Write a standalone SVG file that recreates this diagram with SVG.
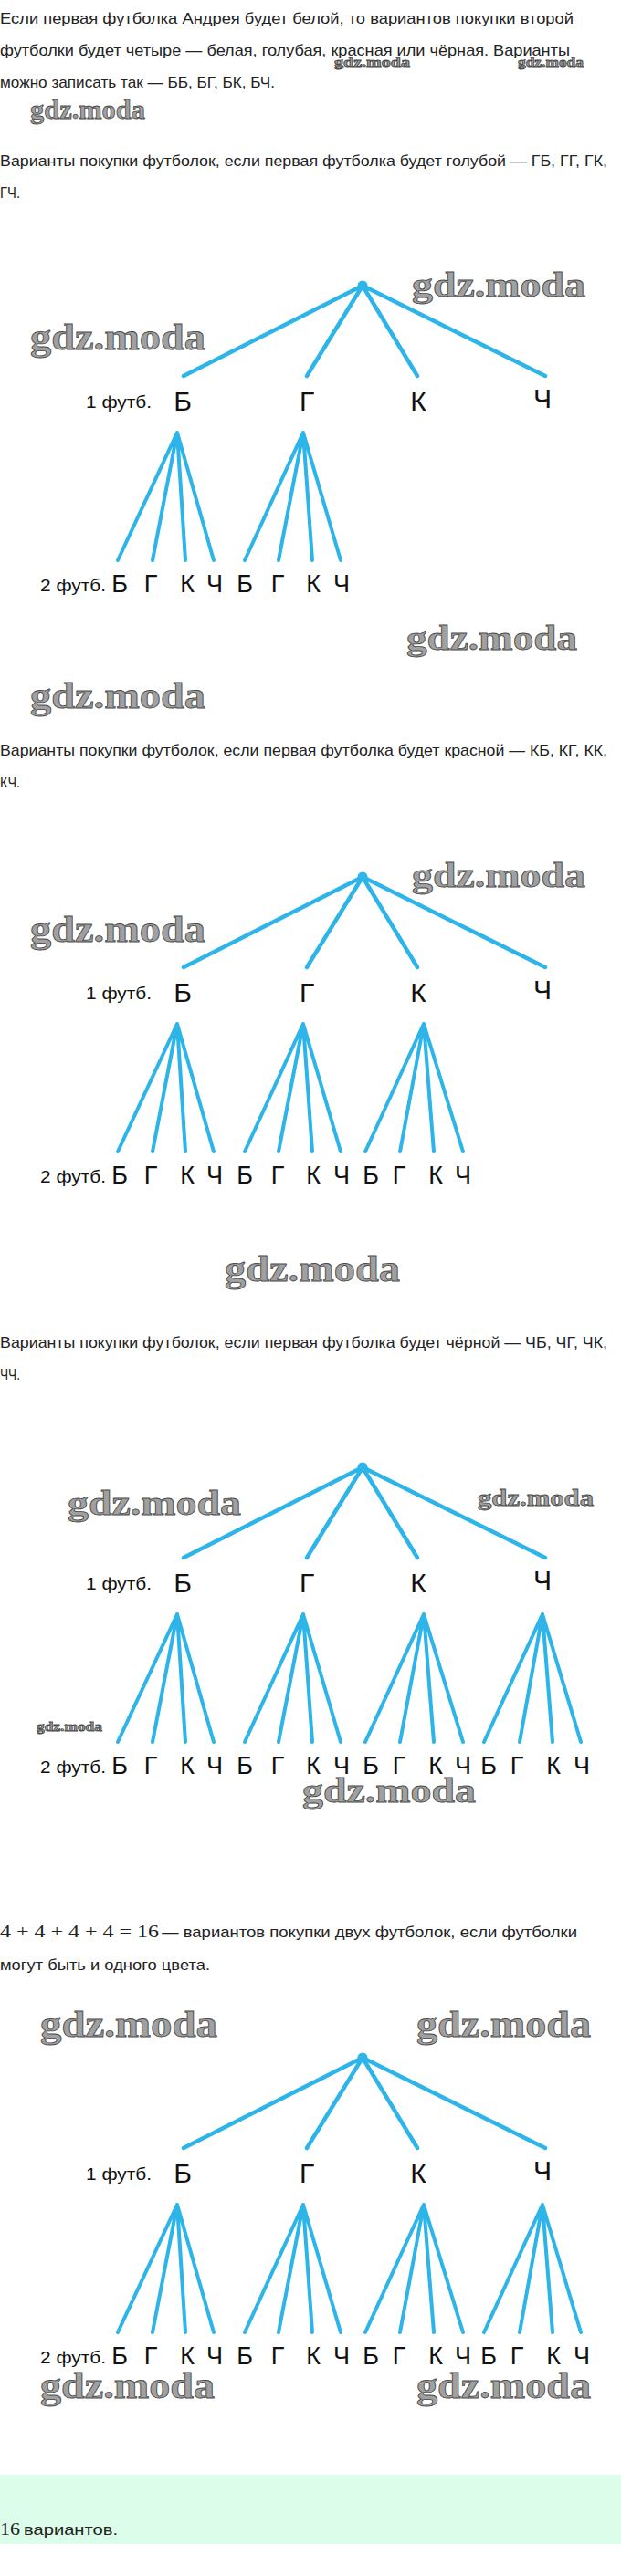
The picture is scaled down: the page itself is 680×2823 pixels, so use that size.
<svg xmlns="http://www.w3.org/2000/svg" width="680" height="2823" viewBox="0 0 680 2823">
<style>
.t{font-family:"Liberation Sans",Arial,sans-serif;font-size:17px;fill:#222}
.m{font-family:"Liberation Serif","Times New Roman",serif;font-size:19px;fill:#222}
.l1{font-family:"Liberation Sans",Arial,sans-serif;font-size:30px;fill:#111;text-anchor:middle}
.l2{font-family:"Liberation Sans",Arial,sans-serif;font-size:27px;fill:#111;text-anchor:middle}
.sm{font-family:"Liberation Sans",Arial,sans-serif;font-size:19px;fill:#111}
.wm{font-family:"Liberation Serif","Times New Roman",serif;font-weight:bold;fill:#a0a0a0;stroke:#4a4a4a;stroke-width:0.8}
.c{fill:none;stroke:#2db4e9;stroke-width:4.5;stroke-linecap:round}
.s{fill:none;stroke:#2db4e9;stroke-width:4;stroke-linecap:round}
.dot{fill:#2db4e9}
</style>
<rect width="680" height="2823" fill="#fff"/>
<rect x="0" y="2712" width="680" height="76" fill="#dbfde9"/>

<g id="texts">
<text class="t" x="0" y="26" textLength="628" lengthAdjust="spacingAndGlyphs">Если первая футболка Андрея будет белой, то вариантов покупки второй</text>
<text class="t" x="0" y="61" textLength="624" lengthAdjust="spacingAndGlyphs">футболки будет четыре — белая, голубая, красная или чёрная. Варианты</text>
<text class="t" x="0" y="96" textLength="301" lengthAdjust="spacingAndGlyphs">можно записать так — ББ, БГ, БК, БЧ.</text>
<text class="t" x="0" y="182" textLength="665" lengthAdjust="spacingAndGlyphs">Варианты покупки футболок, если первая футболка будет голубой — ГБ, ГГ, ГК,</text>
<text class="t" x="0" y="217" textLength="22" lengthAdjust="spacingAndGlyphs">ГЧ.</text>
<text class="t" x="0" y="828" textLength="665" lengthAdjust="spacingAndGlyphs">Варианты покупки футболок, если первая футболка будет красной — КБ, КГ, КК,</text>
<text class="t" x="0" y="863" textLength="22" lengthAdjust="spacingAndGlyphs">КЧ.</text>
<text class="t" x="0" y="1477" textLength="665" lengthAdjust="spacingAndGlyphs">Варианты покупки футболок, если первая футболка будет чёрной — ЧБ, ЧГ, ЧК,</text>
<text class="t" x="0" y="1512" textLength="22" lengthAdjust="spacingAndGlyphs">ЧЧ.</text>
<text class="m" x="0" y="2123" textLength="174" lengthAdjust="spacingAndGlyphs">4 + 4 + 4 + 4 = 16</text>
<text class="t" x="177" y="2123" textLength="455" lengthAdjust="spacingAndGlyphs">— вариантов покупки двух футболок, если футболки</text>
<text class="t" x="0" y="2159" textLength="230" lengthAdjust="spacingAndGlyphs">могут быть и одного цвета.</text>
<text class="m" x="0" y="2778" textLength="22" lengthAdjust="spacingAndGlyphs">16</text>
<text class="t" x="26" y="2778" textLength="103" lengthAdjust="spacingAndGlyphs">вариантов.</text>
</g>

<g id="watermarks">
<text class="wm" x="366" y="73" font-size="15" textLength="83" lengthAdjust="spacingAndGlyphs" stroke-width="0.4">gdz.moda</text>
<text class="wm" x="567" y="73" font-size="15" textLength="72" lengthAdjust="spacingAndGlyphs" stroke-width="0.4">gdz.moda</text>
<text class="wm" x="33" y="130" font-size="30" textLength="126" lengthAdjust="spacingAndGlyphs">gdz.moda</text>
<text class="wm" x="451" y="325" font-size="37" textLength="190" lengthAdjust="spacingAndGlyphs">gdz.moda</text>
<text class="wm" x="33" y="383" font-size="40" textLength="192" lengthAdjust="spacingAndGlyphs">gdz.moda</text>
<text class="wm" x="445" y="712" font-size="38" textLength="187" lengthAdjust="spacingAndGlyphs">gdz.moda</text>
<text class="wm" x="33" y="776" font-size="40" textLength="192" lengthAdjust="spacingAndGlyphs">gdz.moda</text>
<text class="wm" x="451" y="972" font-size="37" textLength="190" lengthAdjust="spacingAndGlyphs">gdz.moda</text>
<text class="wm" x="33" y="1032" font-size="40" textLength="192" lengthAdjust="spacingAndGlyphs">gdz.moda</text>
<text class="wm" x="246" y="1404" font-size="40" textLength="192" lengthAdjust="spacingAndGlyphs">gdz.moda</text>
<text class="wm" x="74" y="1660" font-size="38" textLength="190" lengthAdjust="spacingAndGlyphs">gdz.moda</text>
<text class="wm" x="523" y="1650" font-size="25" textLength="127" lengthAdjust="spacingAndGlyphs" stroke-width="0.6">gdz.moda</text>
<text class="wm" x="40" y="1897" font-size="15" textLength="72" lengthAdjust="spacingAndGlyphs" stroke-width="0.4">gdz.moda</text>
<text class="wm" x="331" y="1975" font-size="38" textLength="190" lengthAdjust="spacingAndGlyphs">gdz.moda</text>
<text class="wm" x="44" y="2232" font-size="40" textLength="194" lengthAdjust="spacingAndGlyphs">gdz.moda</text>
<text class="wm" x="456" y="2232" font-size="40" textLength="191" lengthAdjust="spacingAndGlyphs">gdz.moda</text>
<text class="wm" x="44" y="2628" font-size="40" textLength="191" lengthAdjust="spacingAndGlyphs">gdz.moda</text>
<text class="wm" x="456" y="2628" font-size="40" textLength="191" lengthAdjust="spacingAndGlyphs">gdz.moda</text>
</g>

<g id="connectors">
<path id="t1-root" class="c" d="M397,313L201,412M397,313L336,412M397,313L457,412M397,313L597,412"/>
<path id="t1-B" class="s" d="M194,474L129,614M194,474L167,614M194,474L203,614M194,474L234,614"/>
<path id="t1-G" class="s" d="M332,474L268,614M332,474L305,614M332,474L342,614M332,474L373,614"/>
<path id="t2-root" class="c" d="M397,961L201,1060M397,961L336,1060M397,961L457,1060M397,961L597,1060"/>
<path id="t2-B" class="s" d="M194,1122L129,1262M194,1122L167,1262M194,1122L203,1262M194,1122L234,1262"/>
<path id="t2-G" class="s" d="M332,1122L268,1262M332,1122L305,1262M332,1122L342,1262M332,1122L373,1262"/>
<path id="t2-K" class="s" d="M464,1122L400,1262M464,1122L438,1262M464,1122L475,1262M464,1122L507,1262"/>
<path id="t3-root" class="c" d="M397,1608L201,1707M397,1608L336,1707M397,1608L457,1707M397,1608L597,1707"/>
<path id="t3-B" class="s" d="M194,1769L129,1909M194,1769L167,1909M194,1769L203,1909M194,1769L234,1909"/>
<path id="t3-G" class="s" d="M332,1769L268,1909M332,1769L305,1909M332,1769L342,1909M332,1769L373,1909"/>
<path id="t3-K" class="s" d="M464,1769L400,1909M464,1769L438,1909M464,1769L475,1909M464,1769L507,1909"/>
<path id="t3-CH" class="s" d="M594,1769L530,1909M594,1769L569,1909M594,1769L605,1909M594,1769L636,1909"/>
<path id="t4-root" class="c" d="M397,2255L201,2354M397,2255L336,2354M397,2255L457,2354M397,2255L597,2354"/>
<path id="t4-B" class="s" d="M194,2416L129,2556M194,2416L167,2556M194,2416L203,2556M194,2416L234,2556"/>
<path id="t4-G" class="s" d="M332,2416L268,2556M332,2416L305,2556M332,2416L342,2556M332,2416L373,2556"/>
<path id="t4-K" class="s" d="M464,2416L400,2556M464,2416L438,2556M464,2416L475,2556M464,2416L507,2556"/>
<path id="t4-CH" class="s" d="M594,2416L530,2556M594,2416L569,2556M594,2416L605,2556M594,2416L636,2556"/>
</g>

<g id="tree1-root"><circle class="dot" cx="397" cy="313" r="5.5"/></g>
<g id="tree1-level1">
<text class="sm" x="94" y="447" textLength="72" lengthAdjust="spacingAndGlyphs">1 футб.</text>
<text class="l1" x="200" y="450">Б</text><text class="l1" x="336" y="450">Г</text><text class="l1" x="458" y="450">К</text><text class="l1" x="594" y="447">Ч</text>
</g>
<g id="tree1-level2">
<text class="sm" x="44" y="648" textLength="72" lengthAdjust="spacingAndGlyphs">2 футб.</text>
<text class="l2" x="131" y="649">Б</text><text class="l2" x="165" y="649">Г</text><text class="l2" x="205" y="649">К</text><text class="l2" x="235" y="649">Ч</text>
<text class="l2" x="268" y="649">Б</text><text class="l2" x="304" y="649">Г</text><text class="l2" x="343" y="649">К</text><text class="l2" x="374" y="649">Ч</text>
</g>

<g id="tree2-root"><circle class="dot" cx="397" cy="961" r="5.5"/></g>
<g id="tree2-level1">
<text class="sm" x="94" y="1095" textLength="72" lengthAdjust="spacingAndGlyphs">1 футб.</text>
<text class="l1" x="200" y="1098">Б</text><text class="l1" x="336" y="1098">Г</text><text class="l1" x="458" y="1098">К</text><text class="l1" x="594" y="1095">Ч</text>
</g>
<g id="tree2-level2">
<text class="sm" x="44" y="1296" textLength="72" lengthAdjust="spacingAndGlyphs">2 футб.</text>
<text class="l2" x="131" y="1297">Б</text><text class="l2" x="165" y="1297">Г</text><text class="l2" x="205" y="1297">К</text><text class="l2" x="235" y="1297">Ч</text>
<text class="l2" x="268" y="1297">Б</text><text class="l2" x="304" y="1297">Г</text><text class="l2" x="343" y="1297">К</text><text class="l2" x="374" y="1297">Ч</text>
<text class="l2" x="406" y="1297">Б</text><text class="l2" x="437" y="1297">Г</text><text class="l2" x="477" y="1297">К</text><text class="l2" x="507" y="1297">Ч</text>
</g>

<g id="tree3-root"><circle class="dot" cx="397" cy="1608" r="5.5"/></g>
<g id="tree3-level1">
<text class="sm" x="94" y="1742" textLength="72" lengthAdjust="spacingAndGlyphs">1 футб.</text>
<text class="l1" x="200" y="1745">Б</text><text class="l1" x="336" y="1745">Г</text><text class="l1" x="458" y="1745">К</text><text class="l1" x="594" y="1742">Ч</text>
</g>
<g id="tree3-level2">
<text class="sm" x="44" y="1943" textLength="72" lengthAdjust="spacingAndGlyphs">2 футб.</text>
<text class="l2" x="131" y="1944">Б</text><text class="l2" x="165" y="1944">Г</text><text class="l2" x="205" y="1944">К</text><text class="l2" x="235" y="1944">Ч</text>
<text class="l2" x="268" y="1944">Б</text><text class="l2" x="304" y="1944">Г</text><text class="l2" x="343" y="1944">К</text><text class="l2" x="374" y="1944">Ч</text>
<text class="l2" x="406" y="1944">Б</text><text class="l2" x="437" y="1944">Г</text><text class="l2" x="477" y="1944">К</text><text class="l2" x="507" y="1944">Ч</text>
<text class="l2" x="535" y="1944">Б</text><text class="l2" x="566" y="1944">Г</text><text class="l2" x="606" y="1944">К</text><text class="l2" x="637" y="1944">Ч</text>
</g>

<g id="tree4-root"><circle class="dot" cx="397" cy="2255" r="5.5"/></g>
<g id="tree4-level1">
<text class="sm" x="94" y="2389" textLength="72" lengthAdjust="spacingAndGlyphs">1 футб.</text>
<text class="l1" x="200" y="2392">Б</text><text class="l1" x="336" y="2392">Г</text><text class="l1" x="458" y="2392">К</text><text class="l1" x="594" y="2389">Ч</text>
</g>
<g id="tree4-level2">
<text class="sm" x="44" y="2590" textLength="72" lengthAdjust="spacingAndGlyphs">2 футб.</text>
<text class="l2" x="131" y="2591">Б</text><text class="l2" x="165" y="2591">Г</text><text class="l2" x="205" y="2591">К</text><text class="l2" x="235" y="2591">Ч</text>
<text class="l2" x="268" y="2591">Б</text><text class="l2" x="304" y="2591">Г</text><text class="l2" x="343" y="2591">К</text><text class="l2" x="374" y="2591">Ч</text>
<text class="l2" x="406" y="2591">Б</text><text class="l2" x="437" y="2591">Г</text><text class="l2" x="477" y="2591">К</text><text class="l2" x="507" y="2591">Ч</text>
<text class="l2" x="535" y="2591">Б</text><text class="l2" x="566" y="2591">Г</text><text class="l2" x="606" y="2591">К</text><text class="l2" x="637" y="2591">Ч</text>
</g>
</svg>
